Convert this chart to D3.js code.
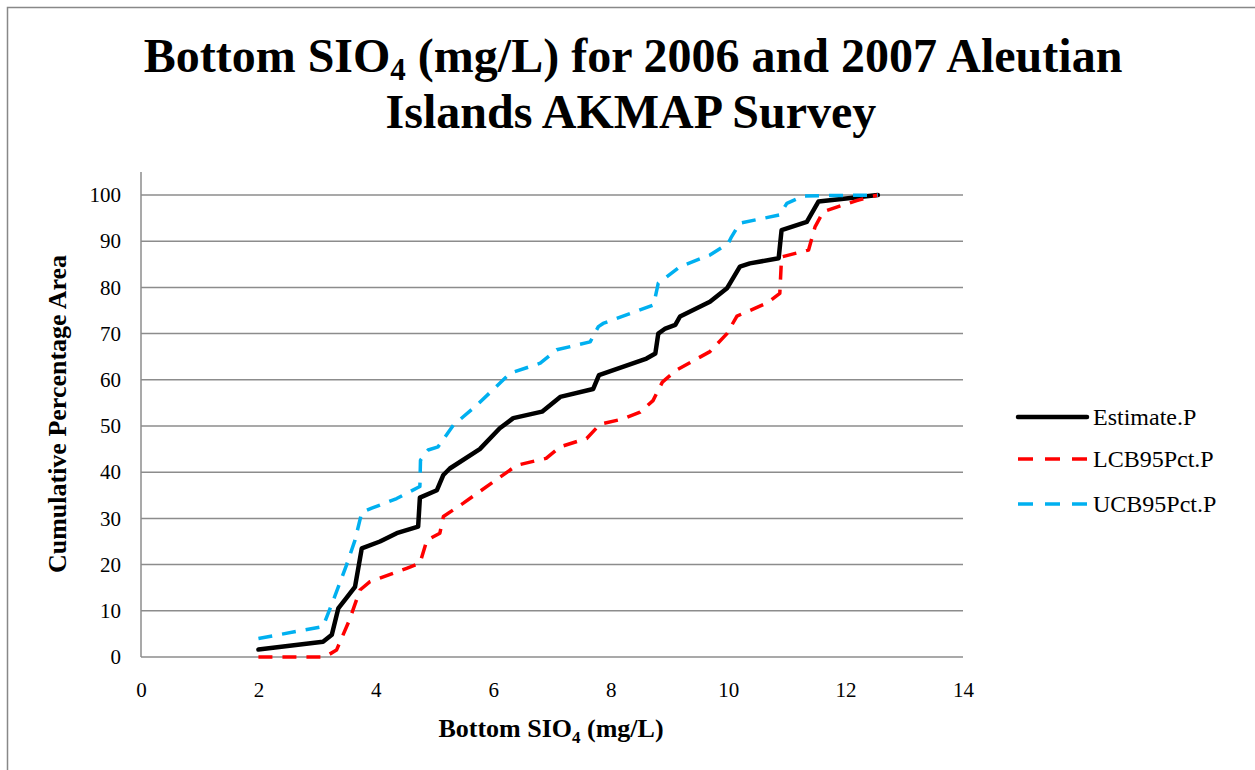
<!DOCTYPE html>
<html>
<head>
<meta charset="utf-8">
<script src="https://cdn.jsdelivr.net/npm/d3@7"></script>
<style>
  html, body { margin: 0; padding: 0; background: #fff; }
  svg { display: block; }
  text { font-family: "Liberation Serif", "Times New Roman", serif; fill: #000; }
</style>
</head>
<body>
<svg id="chart" width="1255" height="770"></svg>
<script>
// ---- Data ----
const xTicks = [0, 2, 4, 6, 8, 10, 12, 14];
const yTicks = [0, 10, 20, 30, 40, 50, 60, 70, 80, 90, 100];

const estimateX = [2.0, 3.1, 3.25, 3.36, 3.47, 3.645, 3.76, 4.07, 4.355, 4.72, 4.75, 5.04, 5.15, 5.26, 5.77, 6.11, 6.34, 6.83, 7.14, 7.70, 7.80, 8.61, 8.76, 8.81, 8.93, 9.10, 9.18, 9.69, 9.98, 10.20, 10.37, 10.86, 10.91, 11.34, 11.54, 12.55];
const estimateY = [1.6, 3.3, 4.8, 10.5, 12.3, 15.2, 23.5, 25.0, 26.8, 28.2, 34.5, 36.1, 39.4, 40.8, 45.0, 49.5, 51.7, 53.1, 56.3, 58.0, 61.0, 64.6, 65.7, 70.0, 71.1, 71.9, 73.7, 76.9, 79.8, 84.5, 85.2, 86.3, 92.4, 94.2, 98.6, 100];

const lcbX = [2.0, 3.13, 3.33, 3.55, 3.73, 3.9, 4.525, 4.75, 4.87, 5.09, 5.15, 5.49, 6.0, 6.4, 6.9, 7.14, 7.59, 7.82, 8.2, 8.5, 8.72, 8.88, 9.12, 9.69, 9.98, 10.15, 10.66, 10.88, 10.91, 11.37, 11.48, 11.62, 12.19, 12.55];
const lcbY = [0, 0, 1.5, 8.0, 14.5, 16.3, 19.2, 20.3, 25.3, 26.8, 30.4, 33.3, 37.9, 41.5, 43.0, 45.5, 47.3, 50.4, 51.5, 53.0, 55.5, 59.5, 62.1, 66.1, 70.0, 73.8, 76.6, 78.7, 86.6, 88.1, 93.1, 96.4, 98.8, 100];

const ucbX = [2.0, 3.1, 3.3, 3.5, 3.645, 3.76, 3.93, 4.355, 4.75, 4.76, 4.89, 5.06, 5.32, 5.72, 6.285, 6.8, 7.08, 7.65, 7.79, 7.87, 8.73, 8.81, 9.18, 9.69, 10.0, 10.06, 10.2, 10.88, 11.0, 11.28, 12.55];
const ucbY = [4.0, 6.6, 13.1, 19.9, 25.3, 31.3, 32.2, 34.3, 36.9, 42.6, 44.8, 45.5, 50.2, 54.5, 61.4, 63.6, 66.5, 68.2, 71.5, 72.2, 76.2, 80.9, 84.5, 87.0, 89.5, 91.0, 93.9, 95.7, 98.2, 99.8, 100];

const seriesNames = ["Estimate.P", "LCB95Pct.P", "UCB95Pct.P"];
const seriesColors = ["#000000", "#FF0000", "#00B0F0"];

// ---- Layout ----
const svg = d3.select("#chart");
const plot = { left: 141, right: 963, top: 195, bottom: 657 };

const x = d3.scaleLinear().domain([0, 14]).range([plot.left, plot.right]);
const y = d3.scaleLinear().domain([0, 100]).range([plot.bottom, plot.top]);

// outer border (chart area extends past the window on right and bottom)
svg.append("rect")
  .attr("x", 7.5).attr("y", 7.5)
  .attr("width", 1300).attr("height", 800)
  .attr("fill", "none").attr("stroke", "#888888").attr("stroke-width", 1.5);

// title
const title = svg.append("text")
  .attr("text-anchor", "middle")
  .attr("font-weight", "bold")
  .attr("font-size", 48);
const l1 = title.append("tspan").attr("x", 633).attr("y", 72);
l1.append("tspan").text("Bottom SIO");
l1.append("tspan").attr("font-size", 31).attr("dy", 8).text("4");
l1.append("tspan").attr("dy", -8).text(" (mg/L) for 2006 and 2007 Aleutian");
title.append("tspan").attr("x", 631).attr("y", 128).text("Islands AKMAP Survey");

// gridlines
svg.append("g").selectAll("line")
  .data(yTicks.filter(d => d > 0))
  .join("line")
  .attr("x1", plot.left).attr("x2", plot.right)
  .attr("y1", d => y(d)).attr("y2", d => y(d))
  .attr("stroke", "#8c8c8c").attr("stroke-width", 1.5);

// axes
const yAxis = d3.axisLeft(y).tickValues(yTicks).tickSize(0).tickPadding(20);
const gy = svg.append("g").attr("transform", `translate(${plot.left},0)`).call(yAxis);
gy.select(".domain").remove();
gy.selectAll("text").attr("font-size", 21).attr("font-family", "Liberation Serif").attr("fill", "#000");

const xAxis = d3.axisBottom(x).tickValues(xTicks).tickSize(0).tickPadding(25);
const gx = svg.append("g").attr("transform", `translate(0,${plot.bottom})`).call(xAxis);
gx.select(".domain").remove();
gx.selectAll("text").attr("font-size", 21).attr("font-family", "Liberation Serif").attr("fill", "#000");

// axis lines
svg.append("line")
  .attr("x1", plot.left).attr("x2", plot.left)
  .attr("y1", 172).attr("y2", plot.bottom)
  .attr("stroke", "#8c8c8c").attr("stroke-width", 1.5);
svg.append("line")
  .attr("x1", plot.left).attr("x2", plot.right)
  .attr("y1", plot.bottom).attr("y2", plot.bottom)
  .attr("stroke", "#8c8c8c").attr("stroke-width", 1.5);

// axis titles
const xt = svg.append("text")
  .attr("x", 551).attr("y", 737)
  .attr("text-anchor", "middle")
  .attr("font-weight", "bold").attr("font-size", 26);
xt.append("tspan").text("Bottom SIO");
xt.append("tspan").attr("font-size", 17).attr("dy", 6).text("4");
xt.append("tspan").attr("dy", -6).text(" (mg/L)");

svg.append("text")
  .attr("transform", "translate(66,414) rotate(-90)")
  .attr("text-anchor", "middle")
  .attr("font-weight", "bold").attr("font-size", 26)
  .text("Cumulative Percentage Area");

// series
const line = d3.line().x(d => x(d[0])).y(d => y(d[1]));
const seriesData = [
  d3.zip(estimateX, estimateY),
  d3.zip(lcbX, lcbY),
  d3.zip(ucbX, ucbY)
];
const dashes = [null, "14,10", "14,10"];
const widths = [4.5, 3.5, 3.5];

[0, 1, 2].forEach(i => {
  svg.append("path")
    .datum(seriesData[i])
    .attr("d", line)
    .attr("fill", "none")
    .attr("stroke", seriesColors[i])
    .attr("stroke-width", widths[i])
    .attr("stroke-linejoin", "round")
    .attr("stroke-linecap", i === 0 ? "round" : "butt")
    .attr("stroke-dasharray", dashes[i]);
});

// legend
const legendY = [417, 459, 504];
const lg = svg.append("g");
seriesNames.forEach((name, i) => {
  lg.append("line")
    .attr("x1", 1018).attr("x2", 1087)
    .attr("y1", legendY[i]).attr("y2", legendY[i])
    .attr("stroke", seriesColors[i])
    .attr("stroke-width", widths[i])
    .attr("stroke-linecap", i === 0 ? "round" : "butt")
    .attr("stroke-dasharray", i === 0 ? null : "15,12");
  lg.append("text")
    .attr("x", 1093).attr("y", legendY[i] + 8)
    .attr("font-size", 24)
    .text(name);
});
</script>
</body>
</html>
